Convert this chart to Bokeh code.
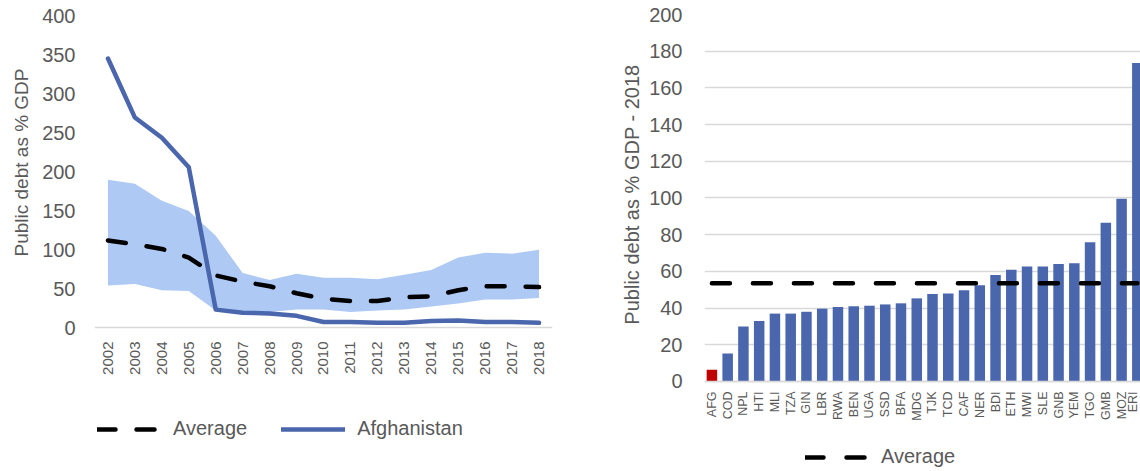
import math
from bokeh.plotting import figure
from bokeh.models import Range1d, FixedTicker, Legend, LegendItem, Title
from bokeh.layouts import row
from bokeh.embed import file_html
from bokeh.resources import INLINE

# ---------------- data ----------------
years = list(range(2002, 2019))
afghanistan = [346, 270, 244, 206, 23, 19, 18, 15, 7, 7, 6, 6, 8.5, 9, 7, 7, 6]
average = [112, 107, 101, 90, 67, 59, 53, 44, 37, 34, 34, 39, 40, 48, 53, 53, 52]
band_upper = [190, 185, 163, 150, 118, 70, 61, 69, 64, 64, 62, 68, 74, 90, 96, 95, 100]
band_lower = [54, 56, 48, 47, 22, 20, 20, 23, 23, 20, 22, 23, 27, 31, 36, 36, 38]
left_yticks = [0, 50, 100, 150, 200, 250, 300, 350, 400]

countries = ["AFG", "COD", "NPL", "HTI", "MLI", "TZA", "GIN", "LBR", "RWA", "BEN",
             "UGA", "SSD", "BFA", "MDG", "TJK", "TCD", "CAF", "NER", "BDI", "ETH",
             "MWI", "SLE", "GNB", "YEM", "TGO", "GMB", "MOZ", "ERI"]
debt_2018 = [6.4, 15.2, 30, 33, 37, 37, 38, 39.7, 40.6, 41, 41.3, 42, 42.6, 45.3,
             47.7, 48, 49.7, 52.4, 58.1, 60.9, 62.7, 62.7, 64, 64.4, 75.9, 86.5,
             99.6, 173.6]
average_2018 = 53.5
highlight = "AFG"
right_yticks = [0, 20, 40, 60, 80, 100, 120, 140, 160, 180, 200]

# ---------------- styles ----------------
FONT = "Liberation Sans"
TXT = "#595959"
BLUE = "#4a66ac"
BAND = "#adc9f4"
RED = "#c00000"
GRID = "#d9d9d9"
H = 471
TOP = 14   # both frames share top/bottom edges (row aligns them)


def style_common(p):
    p.outline_line_color = None
    p.background_fill_color = "white"
    p.border_fill_color = "white"
    for ax in (p.xaxis[0], p.yaxis[0]):
        ax.major_tick_line_color = None
        ax.minor_tick_line_color = None
        ax.major_tick_out = 0
        ax.major_tick_in = 0
        ax.major_label_text_font = FONT
        ax.major_label_text_color = TXT
    p.yaxis[0].axis_line_color = None
    p.yaxis[0].major_label_text_font_size = "20px"
    p.xaxis[0].axis_line_color = GRID
    p.xaxis[0].axis_line_width = 1.5
    p.xaxis[0].fixed_location = 0
    p.xaxis[0].major_label_orientation = math.pi / 2


def side_title(text, size, offset, standoff):
    # anchored at the top end of the frame, pushed down by `offset`
    return Title(text=text, align="right", offset=offset, standoff=standoff,
                 text_font=FONT, text_font_size=size, text_font_style="normal",
                 text_color=TXT)


def style_legend(leg):
    leg.glyph_width = 64
    leg.glyph_height = 20
    leg.label_height = 20
    leg.label_standoff = 12
    leg.padding = 0
    leg.margin = 0
    leg.label_text_font = FONT
    leg.label_text_font_size = "20px"
    leg.label_text_color = TXT
    leg.background_fill_alpha = 0
    leg.border_line_alpha = 0


# ---------------- left chart ----------------
p1 = figure(width=598, height=H, x_range=Range1d(2001.5, 2018.5),
            y_range=Range1d(-185.2, 402.57), output_backend="svg",
            toolbar_location=None, min_border_left=93, min_border_right=46,
            min_border_top=TOP, min_border_bottom=0)
style_common(p1)
p1.xgrid.visible = False
p1.ygrid.visible = False
p1.yaxis[0].ticker = FixedTicker(ticks=left_yticks)
p1.xaxis[0].ticker = FixedTicker(ticks=years)
p1.xaxis[0].major_label_text_font_size = "15px"
p1.xaxis[0].major_label_standoff = 14
p1.yaxis[0].major_label_standoff = 19
p1.add_layout(side_title("Public debt as % GDP", "19px", 54, 16), "left")

p1.varea(x=years, y1=band_lower, y2=band_upper, fill_color=BAND, fill_alpha=1)
r_avg = p1.line(years, average, line_color="black", line_width=4.5,
                line_dash="18 21", line_cap="round")
r_afg = p1.line(years, afghanistan, line_color=BLUE, line_width=4.5,
                line_join="round", line_cap="round")

leg1 = Legend(items=[LegendItem(label="Average", renderers=[r_avg]),
                     LegendItem(label="Afghanistan", renderers=[r_afg])],
              location=(3, 31), orientation="horizontal")
style_legend(leg1)
leg1.spacing = 34
p1.add_layout(leg1, "center")

# ---------------- right chart ----------------
idx = list(range(len(countries)))
bar_colors = [RED if c == highlight else BLUE for c in countries]
avg_line = [average_2018 for _ in countries]

p2 = figure(width=542, height=H, x_range=Range1d(-0.47, 27.2),
            y_range=Range1d(-49.05, 200), output_backend="svg",
            toolbar_location=None, min_border_left=106, min_border_right=0,
            min_border_top=TOP, min_border_bottom=0)
style_common(p2)
p2.xgrid.visible = False
p2.ygrid.grid_line_color = GRID
p2.ygrid.grid_line_width = 1.5
p2.yaxis[0].ticker = FixedTicker(ticks=right_yticks)
p2.xaxis[0].ticker = FixedTicker(ticks=idx)
p2.xaxis[0].major_label_overrides = {i: c for i, c in zip(idx, countries)}
p2.xaxis[0].major_label_text_font_size = "12.5px"
p2.xaxis[0].major_label_standoff = 10
p2.yaxis[0].major_label_standoff = 22
p2.add_layout(side_title("Public debt as % GDP - 2018", "20px", 50, 8), "left")

p2.vbar(x=idx, top=debt_2018, width=0.667, fill_color=bar_colors, line_color=None)
r_avg2 = p2.line(x=idx, y=avg_line, line_color="black", line_width=4.5,
                 line_dash="18 23", line_cap="round")
leg2 = Legend(items=[LegendItem(label="Average", renderers=[r_avg2])],
              location=(101, 3), orientation="horizontal")
style_legend(leg2)
p2.add_layout(leg2, "center")

layout = row(p1, p2, spacing=0)
open("out.html", "w").write(file_html(layout, INLINE))
